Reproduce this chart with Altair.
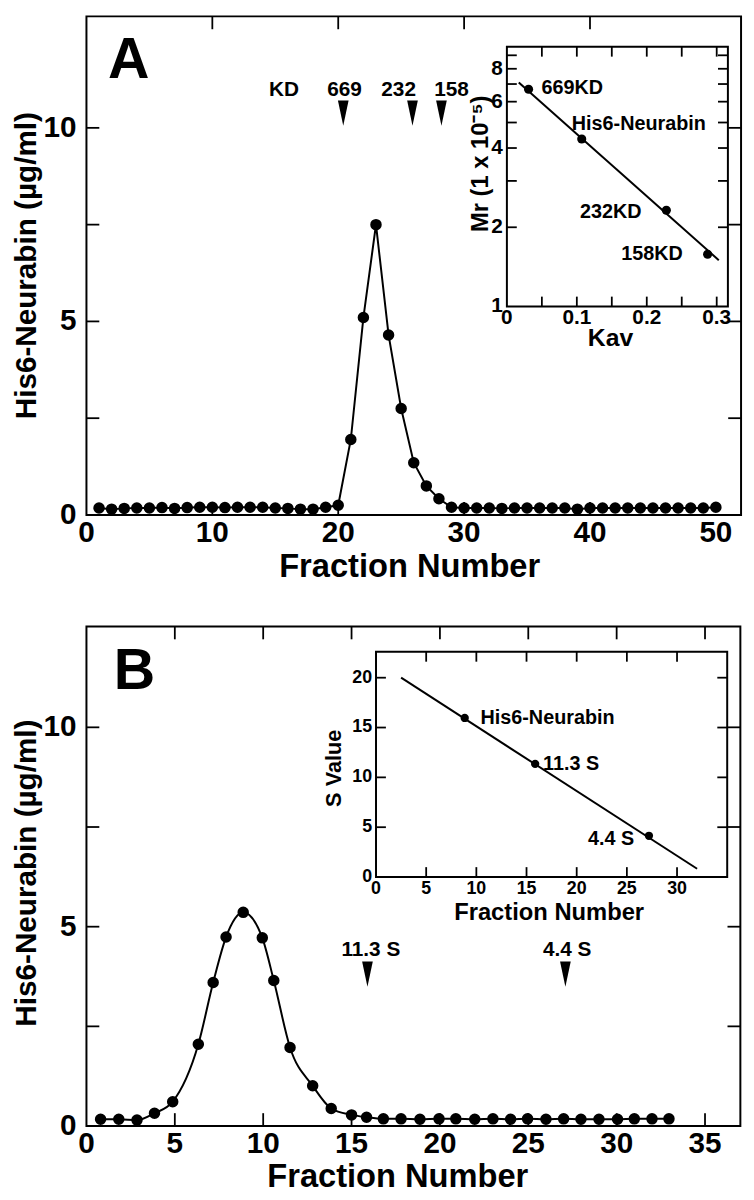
import altair as alt
import pandas as pd

FONT = "Liberation Sans"

# ---------------- Panel A: gel filtration ----------------
A_fraction = list(range(1, 51))
A_protein = [0.18, 0.15, 0.17, 0.18, 0.18, 0.19, 0.17, 0.19, 0.20, 0.20,
             0.19, 0.20, 0.20, 0.20, 0.18, 0.17, 0.15, 0.15, 0.20, 0.25,
             1.95, 5.10, 7.50, 4.65, 2.75, 1.35, 0.75, 0.42, 0.20, 0.18,
             0.18, 0.18, 0.17, 0.18, 0.18, 0.18, 0.18, 0.18, 0.15, 0.18,
             0.18, 0.18, 0.18, 0.18, 0.18, 0.18, 0.18, 0.18, 0.18, 0.20]
A_std_text = ["KD", "669", "232", "158"]
A_std_text_pos = [15.7, 20.5, 24.8, 29.0]
A_std_arrow_pos = [20.4, 25.9, 28.2]

A_inset_kav = [0.031, 0.107, 0.228, 0.287]
A_inset_mr = [6.69, 4.33, 2.32, 1.58]
A_inset_names = ["669KD", "His6-Neurabin", "232KD", "158KD"]
A_fit_kav = [0.017, 0.303]
A_fit_mr = [7.1, 1.5]

A_x_ticks = [10, 20, 30, 40]
A_x_labels = [0, 10, 20, 30, 40, 50]
A_y_ticks = [2.5, 5, 7.5, 10]
A_y_labels = [0, 5, 10]
AI_x_ticks = [0.05, 0.1, 0.15, 0.2, 0.25, 0.3]
AI_x_labels = [0, 0.1, 0.2, 0.3]
AI_x_label_text = ["0", "0.1", "0.2", "0.3"]
AI_y_ticks = [2, 3, 4, 5, 6, 7, 8, 9]
AI_y_labels = [1, 2, 4, 6, 8]

# ---------------- Panel B: sucrose gradient ----------------
B_fraction = [0.8, 1.83, 2.86, 3.85, 4.88, 6.33, 7.17, 7.9, 8.87, 9.95,
              10.6, 11.52, 12.8, 13.85, 15.0, 15.85, 16.8, 17.8, 18.87, 19.95,
              20.9, 21.97, 23.0, 24.0, 24.96, 26.0, 27.0, 27.98, 29.0, 30.05,
              31.0, 32.0, 32.96]
B_protein = [0.17, 0.17, 0.15, 0.32, 0.61, 2.05, 3.6, 4.74, 5.36, 4.72,
             3.65, 1.97, 1.01, 0.44, 0.28, 0.22, 0.18, 0.18, 0.17, 0.18,
             0.18, 0.17, 0.18, 0.17, 0.18, 0.17, 0.18, 0.17, 0.17, 0.17,
             0.18, 0.18, 0.18]
B_std_text = ["11.3 S", "4.4 S"]
B_std_text_pos = [16.09, 27.2]
B_std_arrow_pos = [15.9, 27.1]

B_inset_fraction = [8.84, 15.86, 27.2]
B_inset_s = [15.96, 11.35, 4.14]
B_inset_names = ["His6-Neurabin", "11.3 S", "4.4 S"]
B_fit_fraction = [2.5, 32.0]
B_fit_s = [20.0, 0.83]

B_x_ticks = [5, 10, 15, 20, 25, 30, 35]
B_x_labels = [0, 5, 10, 15, 20, 25, 30, 35]
B_y_ticks = [2.5, 5, 7.5, 10]
B_y_labels = [0, 5, 10]
BI_x_ticks = [5, 10, 15, 20, 25, 30]
BI_x_labels = [0, 5, 10, 15, 20, 25, 30]
BI_y_ticks = [5, 10, 15, 20]
BI_y_labels = [0, 5, 10, 15, 20]

# ---------------- scales (pixel ranges = layout) ----------------
A_xdom, A_ydom = [0, 52], [0, 12.88]
AI_xdom, AI_ydom = [0, 0.316], [1, 9.7]
B_xdom, B_ydom = [0, 37], [0, 12.53]
BI_xdom, BI_ydom = [0, 35], [0, 22.6]

SA_x = alt.Scale(domain=A_xdom, range=[79.3, 741], nice=False, zero=False)
SA_y = alt.Scale(domain=A_ydom, range=[506, 2], nice=False, zero=False)
SAI_x = alt.Scale(domain=AI_xdom, range=[504.3, 727.7], nice=False, zero=False)
SAI_y = alt.Scale(type="log", domain=AI_ydom, range=[295.3, 32.7], nice=False)
SB_x = alt.Scale(domain=B_xdom, range=[79.3, 740.3], nice=False, zero=False)
SB_y = alt.Scale(domain=B_ydom, range=[1123.7, 618.7], nice=False, zero=False)
SBI_x = alt.Scale(domain=BI_xdom, range=[372, 727], nice=False, zero=False)
SBI_y = alt.Scale(domain=BI_ydom, range=[872, 644.3], nice=False, zero=False)


def X(f, s):
    return alt.X(f, type="quantitative", scale=s, axis=None)


def Y(f, s):
    return alt.Y(f, type="quantitative", scale=s, axis=None)


def frame(xdom, ydom, sx, sy, fill):
    df = pd.DataFrame({"x0": [xdom[0]], "x1": [xdom[1]], "y0": [ydom[0]], "y1": [ydom[1]]})
    if fill:
        m = alt.Chart(df).mark_rect(fill="white", stroke="black", strokeWidth=2)
    else:
        m = alt.Chart(df).mark_rect(filled=False, color="black", strokeWidth=2)
    return m.encode(x=X("x0", sx), x2="x1", y=Y("y0", sy), y2="y1")


def ticks(xvals, yvals, xdom, ydom, sx, sy, length, width=1.8):
    out = []
    if xvals:
        for edge, off in [(ydom[0], -length), (ydom[1], length)]:
            df = pd.DataFrame({"a": xvals, "b": [edge] * len(xvals)})
            out.append(alt.Chart(df).mark_rule(color="black", strokeWidth=width, y2Offset=off)
                       .encode(x=X("a", sx), y=Y("b", sy), y2="b"))
    if yvals:
        for edge, off in [(xdom[0], length), (xdom[1], -length)]:
            df = pd.DataFrame({"a": yvals, "b": [edge] * len(yvals)})
            out.append(alt.Chart(df).mark_rule(color="black", strokeWidth=width, x2Offset=off)
                       .encode(y=Y("a", sy), x=X("b", sx), x2="b"))
    return out


def xlabels(vals, texts, ydom, sx, sy, size, dy):
    df = pd.DataFrame({"v": vals, "e": [ydom[0]] * len(vals), "t": texts})
    return (alt.Chart(df).mark_text(align="center", baseline="middle", dy=dy, fontSize=size,
                                    fontWeight="bold", font=FONT, color="black")
            .encode(x=X("v", sx), y=Y("e", sy), text="t:N"))


def ylabels(vals, texts, xdom, sx, sy, size, dx):
    df = pd.DataFrame({"v": vals, "e": [xdom[0]] * len(vals), "t": texts})
    return (alt.Chart(df).mark_text(align="right", baseline="middle", dx=dx, fontSize=size,
                                    fontWeight="bold", font=FONT, color="black")
            .encode(y=Y("v", sy), x=X("e", sx), text="t:N"))


def free_text(txt, x, y, size, angle=0, align="center", baseline="middle"):
    kw = dict(align=align, baseline=baseline, fontSize=size, fontWeight="bold",
              font=FONT, color="black", text=txt)
    if angle:
        kw["angle"] = angle
    return alt.Chart(pd.DataFrame({"d": [0]})).mark_text(**kw).encode(
        x=alt.value(x), y=alt.value(y))


ARROW = "M-0.42,-1L0.42,-1L0,1Z"
layers = []

# ================= Panel A =================
dfA = pd.DataFrame({"f": A_fraction, "c": A_protein})
layers.append(frame(A_xdom, A_ydom, SA_x, SA_y, False))
layers += ticks(A_x_ticks, A_y_ticks, A_xdom, A_ydom, SA_x, SA_y, 13)
layers.append(alt.Chart(dfA).mark_line(color="black", strokeWidth=2)
              .encode(x=X("f", SA_x), y=Y("c", SA_y)))
layers.append(alt.Chart(dfA).mark_circle(color="black", opacity=1, size=135)
              .encode(x=X("f", SA_x), y=Y("c", SA_y)))
layers.append(xlabels(A_x_labels, [str(v) for v in A_x_labels], A_ydom, SA_x, SA_y, 30, 18))
layers.append(ylabels(A_y_labels, [str(v) for v in A_y_labels], A_xdom, SA_x, SA_y, 30, -10))
layers.append(free_text("Fraction Number", 406, 559, 33))
layers.append(free_text("His6-Neurabin (\u00b5g/ml)", 28, 254, 30, angle=270,
                        baseline="alphabetic"))
layers.append(free_text("A", 101, 64, 58, align="left", baseline="alphabetic"))

dfAs = pd.DataFrame({"x": A_std_text_pos, "y": [10.98] * 4, "t": A_std_text})
layers.append(alt.Chart(dfAs).mark_text(fontSize=21, fontWeight="bold", font=FONT,
                                         color="black", baseline="middle")
              .encode(x=X("x", SA_x), y=Y("y", SA_y), text="t:N"))
dfAa = pd.DataFrame({"x": A_std_arrow_pos, "y": [10.38] * 3})
layers.append(alt.Chart(dfAa).mark_point(shape=ARROW, filled=True, color="black",
                                          opacity=1, size=660)
              .encode(x=X("x", SA_x), y=Y("y", SA_y)))

# ---- inset A ----
layers.append(frame(AI_xdom, AI_ydom, SAI_x, SAI_y, True))
layers += ticks(AI_x_ticks, AI_y_ticks, AI_xdom, AI_ydom, SAI_x, SAI_y, 10)
dfAIf = pd.DataFrame({"k": A_fit_kav, "m": A_fit_mr})
layers.append(alt.Chart(dfAIf).mark_line(color="black", strokeWidth=2)
              .encode(x=X("k", SAI_x), y=Y("m", SAI_y)))
dfAI = pd.DataFrame({"k": A_inset_kav, "m": A_inset_mr, "n": A_inset_names})
layers.append(alt.Chart(dfAI).mark_circle(color="black", opacity=1, size=85)
              .encode(x=X("k", SAI_x), y=Y("m", SAI_y)))
AI_label_style = {"669KD": ("left", 13, -1), "His6-Neurabin": ("left", -10, -15),
                  "232KD": ("right", -25, 2), "158KD": ("right", -25, 0)}
for name, (al, dx, dy) in AI_label_style.items():
    layers.append(alt.Chart(dfAI).transform_filter(alt.datum.n == name)
                  .mark_text(align=al, baseline="middle", dx=dx, dy=dy, fontSize=20,
                             fontWeight="bold", font=FONT, color="black")
                  .encode(x=X("k", SAI_x), y=Y("m", SAI_y), text="n:N"))
layers.append(xlabels(AI_x_labels, AI_x_label_text, AI_ydom, SAI_x, SAI_y, 21, 12))
layers.append(ylabels(AI_y_labels, [str(v) for v in AI_y_labels], AI_xdom, SAI_x, SAI_y, 21, -4))
layers.append(free_text("Kav", 609, 327, 25))
layers.append(free_text("Mr (1 x 10\u207b\u2075)", 485, 151, 24, angle=270,
                        baseline="alphabetic"))

# ================= Panel B =================
dfB = pd.DataFrame({"f": B_fraction, "c": B_protein})
layers.append(frame(B_xdom, B_ydom, SB_x, SB_y, False))
layers += ticks(B_x_ticks, B_y_ticks, B_xdom, B_ydom, SB_x, SB_y, 13)
layers.append(alt.Chart(dfB).mark_line(color="black", strokeWidth=2, interpolate="monotone")
              .encode(x=X("f", SB_x), y=Y("c", SB_y)))
layers.append(alt.Chart(dfB).mark_circle(color="black", opacity=1, size=135)
              .encode(x=X("f", SB_x), y=Y("c", SB_y)))
layers.append(xlabels(B_x_labels, [str(v) for v in B_x_labels], B_ydom, SB_x, SB_y, 30, 18))
layers.append(ylabels(B_y_labels, [str(v) for v in B_y_labels], B_xdom, SB_x, SB_y, 30, -10))
layers.append(free_text("Fraction Number", 394, 1175, 33))
layers.append(free_text("His6-Neurabin (\u00b5g/ml)", 28, 868, 30, angle=270,
                        baseline="alphabetic"))
layers.append(free_text("B", 107, 682, 58, align="left", baseline="alphabetic"))

dfBs = pd.DataFrame({"x": B_std_text_pos, "y": [4.42] * 2, "t": B_std_text})
layers.append(alt.Chart(dfBs).mark_text(fontSize=21, fontWeight="bold", font=FONT,
                                         color="black", baseline="middle")
              .encode(x=X("x", SB_x), y=Y("y", SB_y), text="t:N"))
dfBa = pd.DataFrame({"x": B_std_arrow_pos, "y": [3.81] * 2})
layers.append(alt.Chart(dfBa).mark_point(shape=ARROW, filled=True, color="black",
                                          opacity=1, size=660)
              .encode(x=X("x", SB_x), y=Y("y", SB_y)))

# ---- inset B ----
layers.append(frame(BI_xdom, BI_ydom, SBI_x, SBI_y, True))
layers += ticks(BI_x_ticks, BI_y_ticks, BI_xdom, BI_ydom, SBI_x, SBI_y, 10)
dfBIf = pd.DataFrame({"f": B_fit_fraction, "s": B_fit_s})
layers.append(alt.Chart(dfBIf).mark_line(color="black", strokeWidth=2)
              .encode(x=X("f", SBI_x), y=Y("s", SBI_y)))
dfBI = pd.DataFrame({"f": B_inset_fraction, "s": B_inset_s, "n": B_inset_names})
layers.append(alt.Chart(dfBI).mark_circle(color="black", opacity=1, size=70)
              .encode(x=X("f", SBI_x), y=Y("s", SBI_y)))
BI_label_style = {"His6-Neurabin": ("left", 16, 0), "11.3 S": ("left", 8, 0),
                  "4.4 S": ("right", -15, 3)}
for name, (al, dx, dy) in BI_label_style.items():
    layers.append(alt.Chart(dfBI).transform_filter(alt.datum.n == name)
                  .mark_text(align=al, baseline="middle", dx=dx, dy=dy, fontSize=20,
                             fontWeight="bold", font=FONT, color="black")
                  .encode(x=X("f", SBI_x), y=Y("s", SBI_y), text="n:N"))
layers.append(xlabels(BI_x_labels, [str(v) for v in BI_x_labels], BI_ydom, SBI_x, SBI_y, 18, 12))
layers.append(ylabels(BI_y_labels, [str(v) for v in BI_y_labels], BI_xdom, SBI_x, SBI_y, 18, -4))
layers.append(free_text("Fraction Number", 547, 908, 24))
layers.append(free_text("S Value", 337, 762, 22, angle=270, baseline="alphabetic"))

chart = (alt.layer(*layers)
         .resolve_scale(x="independent", y="independent")
         .properties(width=746, height=1192, padding=0,
                     autosize=alt.AutoSizeParams(type="none"))
         .configure_view(stroke=None))

chart.save("out.html", embed_options={"renderer": "svg", "actions": False})
